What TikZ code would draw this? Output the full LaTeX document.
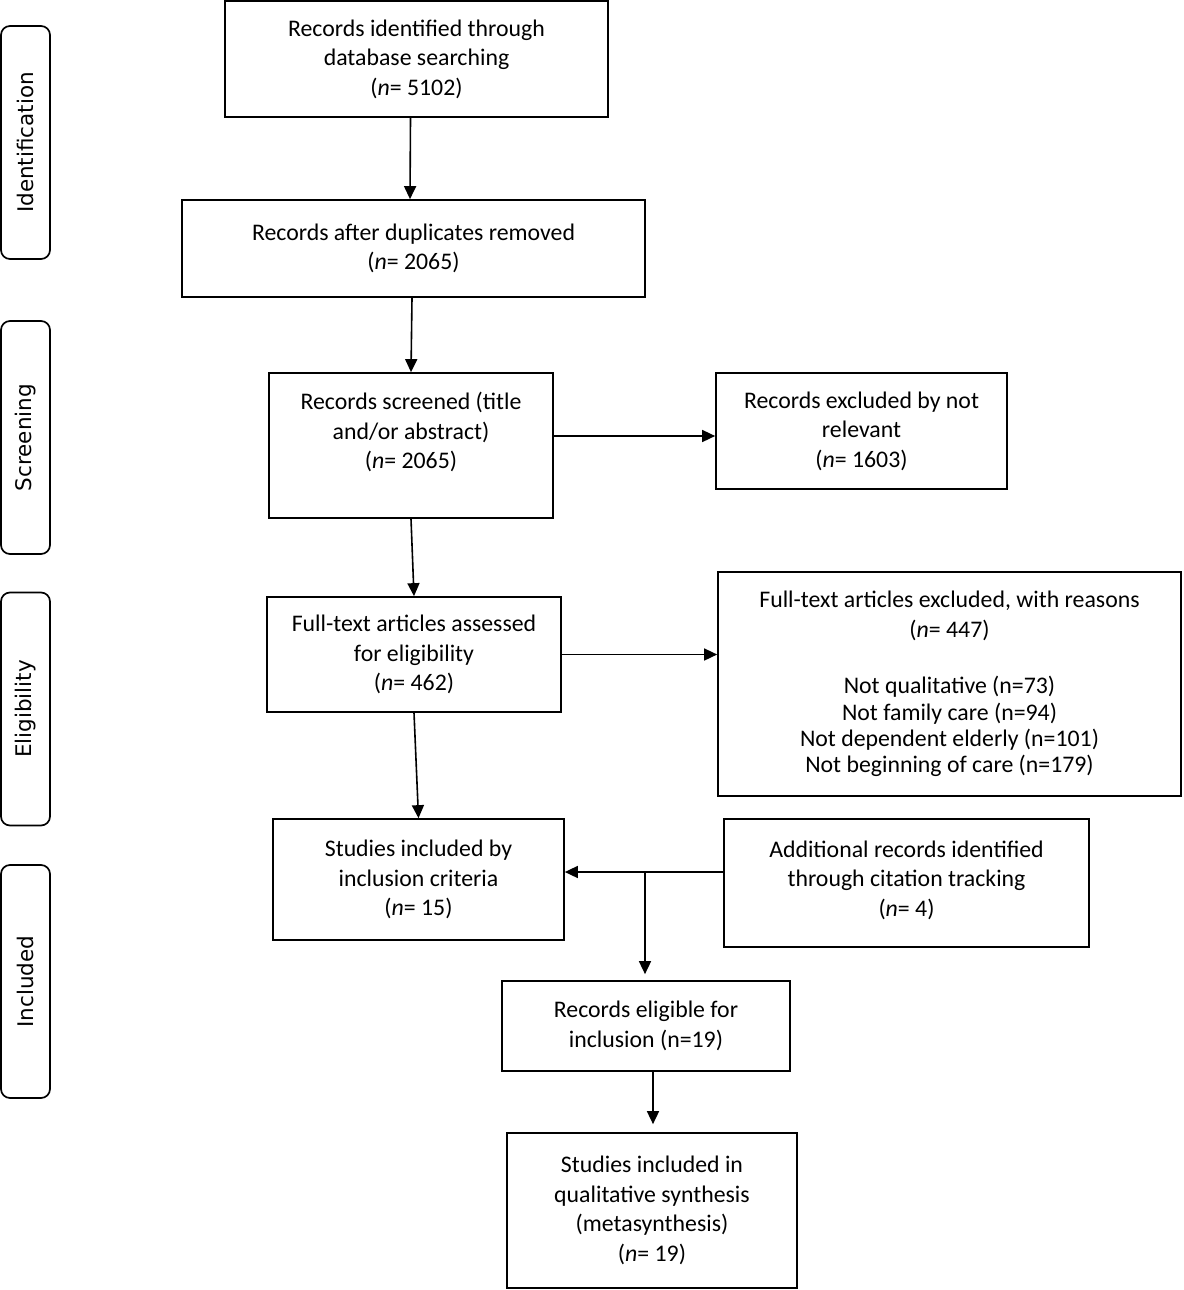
\documentclass[tikz,border=0pt]{standalone}
\usepackage{fontspec}
\setmainfont{Carlito}
\newfontfamily\sidefont{DejaVu Sans}
\usetikzlibrary{arrows.meta}
\begin{document}
\begin{tikzpicture}[x=1pt,y=-1pt,
  box/.style={draw, line width=1.7pt, align=center, inner sep=0pt, font=\fontsize{23.8}{29.5}\selectfont},
  side/.style={draw, line width=1.7pt, rounded corners=9pt, rotate=90, minimum width=233pt, minimum height=49pt, inner sep=0pt, font=\sidefont\fontsize{21.5}{24}\selectfont},
  arr/.style={line width=1.6pt, -{Triangle[length=13pt,width=12pt]}}
]
\useasboundingbox (0,0) rectangle (1183,1290);

% side labels
\node[side] (sid) at (25.5,142.5) {Identification};
\node[side] (ssc) at (25.5,437.5) {Screening};
\node[side] (sel) at (25.5,709) {Eligibility};
\node[side] (sin) at (25.5,981.5) {Included};

% boxes
\node[box, minimum width=383pt, minimum height=116pt] (b1) at (416.5,59) {Records identified through\\ database searching\\ (\textit{n}= 5102)};
\node[box, minimum width=463pt, minimum height=97pt] (b2) at (413.5,248.5) {Records after duplicates removed\\ (\textit{n}= 2065)};
\node[box, minimum width=284pt, minimum height=145pt] (b3) at (411,445.5) {Records screened (title\\ and/or abstract)\\ (\textit{n}= 2065)\\ ~};
\node[box, minimum width=291pt, minimum height=116pt] (b4) at (861.5,431) {Records excluded by not\\ relevant\\ (\textit{n}= 1603)};
\node[box, minimum width=294pt, minimum height=115pt] (b5) at (414,654.5) {Full-text articles assessed\\ for eligibility\\ (\textit{n}= 462)};
\node[box, minimum width=463pt, minimum height=224pt] (b6) at (949.5,684) {Full-text articles excluded, with reasons\\ (\textit{n}= 447)\\[27pt] Not qualitative (n=73)\\[-3.2pt] Not family care (n=94)\\[-3.2pt] Not dependent elderly (n=101)\\[-3.2pt] Not beginning of care (n=179)};
\node[box, minimum width=291pt, minimum height=121pt] (b7) at (418.5,879.5) {Studies included by\\ inclusion criteria\\ (\textit{n}= 15)};
\node[box, minimum width=365pt, minimum height=128pt] (b8) at (906.5,883) {};
\node[align=center, inner sep=0pt, font=\fontsize{23.8}{29.5}\selectfont] (t8) at (906.5,880) {Additional records identified\\ through citation tracking\\ (\textit{n}= 4)};
\node[box, minimum width=288pt, minimum height=90pt] (b9) at (646,1026) {Records eligible for\\ inclusion (n=19)};
\node[box, minimum width=290pt, minimum height=155pt] (b10) at (652,1210.5) {Studies included in\\ qualitative synthesis\\ (metasynthesis)\\ (\textit{n}= 19)};

% connectors
\draw[arr] ([xshift=-6pt]b1.south) -- ([xshift=-3.5pt]b2.north);
\draw[arr] ([xshift=-1.5pt]b2.south) -- (b3.north);
\draw[arr] (b3.south) -- (b5.north);
\draw[arr] (b5.south) -- (b7.north);
\draw[arr] (b3.east |- 0,436) -- (b4.west |- 0,436);
\draw[arr] (b5.east) -- (b6.west |- b5.east);
\draw[arr] (b8.west |- 0,872) -- (b7.east |- 0,872);
\coordinate (j) at (645,872);
\draw[arr, shorten >=6pt] (j) -- (b9.north -| j);
\draw[arr, shorten >=8pt] (b9.south -| 653,0) -- (b10.north -| 653,0);
\end{tikzpicture}
\end{document}
